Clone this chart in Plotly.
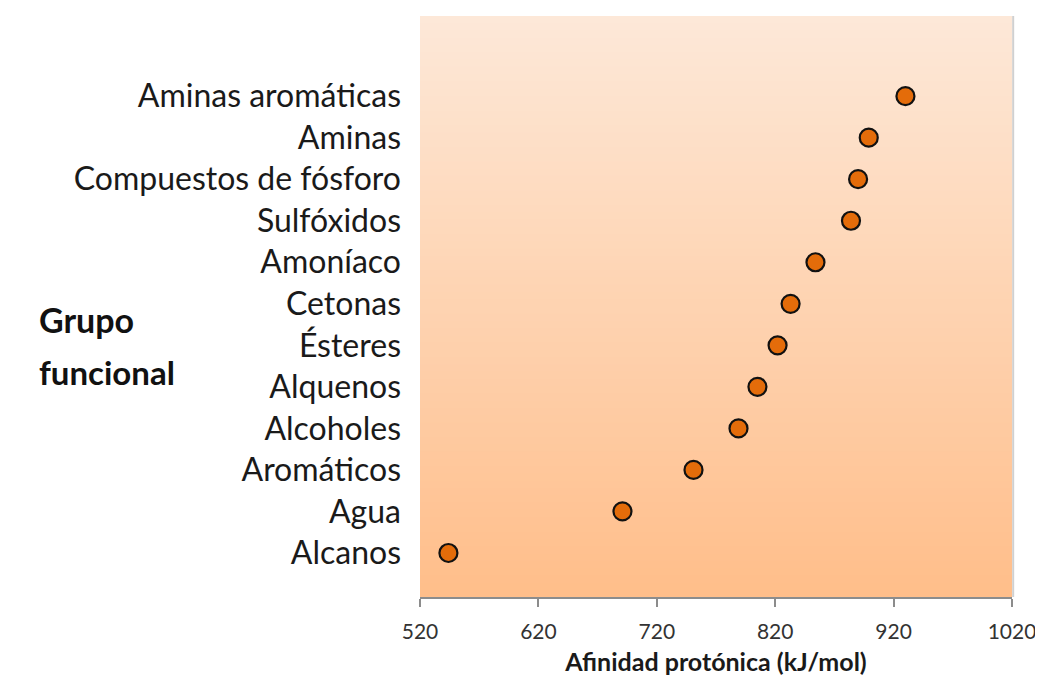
import plotly.graph_objects as go

categories = ["Alcanos", "Agua", "Aromáticos", "Alcoholes", "Alquenos", "Ésteres",
              "Cetonas", "Amoníaco", "Sulfóxidos", "Compuestos de fósforo", "Aminas",
              "Aminas aromáticas"]
values = [544, 691, 751, 789, 805, 822, 833, 854, 884, 890, 899, 930]
x_ticks = [520, 620, 720, 820, 920, 1020]

positions = list(range(len(categories)))

fig = go.Figure()
fig.add_trace(go.Scatter(
    x=values, y=positions, mode="markers",
    marker=dict(size=18, color="#E46C0A", line=dict(color="#111111", width=2.2)),
    showlegend=False, hoverinfo="x+text", text=categories,
))

# gradient background bands (slightly overlapping to avoid seams)
top = (253, 232, 216)
bot = (255, 190, 138)
n = 80
shapes = []
for i in range(n):
    t = i / (n - 1)
    c = tuple(round(top[k] + (bot[k] - top[k]) * t) for k in range(3))
    y0 = max(0, 1 - (i + 1) / n - 0.004)
    shapes.append(dict(type="rect", xref="paper", yref="paper", layer="below",
                       x0=0, x1=1, y0=y0, y1=1 - i / n,
                       line=dict(width=0), fillcolor="rgb(%d,%d,%d)" % c))
# faint shadow edge on the right
shapes.append(dict(type="line", xref="paper", yref="paper", x0=1.002, x1=1.002, y0=0, y1=1,
                   line=dict(color="#D0D0D0", width=2), layer="below"))

fig.update_layout(
    width=1035, height=668,
    margin=dict(l=412, r=31, t=8, b=79, autoexpand=False),
    paper_bgcolor="white", plot_bgcolor="rgba(0,0,0,0)",
    shapes=shapes,
    font=dict(family="Lato", color="#1a1a1a"),
    xaxis=dict(range=[520, 1020], tickvals=x_ticks, ticks="outside", ticklen=8,
               tickcolor="#8C8C8C", tickwidth=1.5, showgrid=False, zeroline=False,
               showline=True, linecolor="#8C8C8C", linewidth=1.5,
               ticklabelstandoff=7, automargin=False,
               tickfont=dict(size=21, color="#333333"),
               title=dict(text="<b>Afinidad protónica (kJ/mol)</b>", standoff=23,
                          font=dict(size=25, color="#1a1a1a"))),
    yaxis=dict(range=[-1.06, 12.93], tickvals=positions, ticktext=categories,
               showgrid=False, zeroline=False, showline=False, ticks="",
               automargin=False,
               ticklabelstandoff=18, tickfont=dict(size=32, color="#1a1a1a")),
    annotations=[
        dict(text="<b>Grupo</b>", xref="paper", yref="paper",
             x=-0.647, y=0.4768, xanchor="left", yanchor="middle",
             showarrow=False, font=dict(size=34, color="#111111")),
        dict(text="<b>funcional</b>", xref="paper", yref="paper",
             x=-0.647, y=0.3873, xanchor="left", yanchor="middle",
             showarrow=False, font=dict(size=33, color="#111111")),
    ],
)

fig.write_html("out.html")
